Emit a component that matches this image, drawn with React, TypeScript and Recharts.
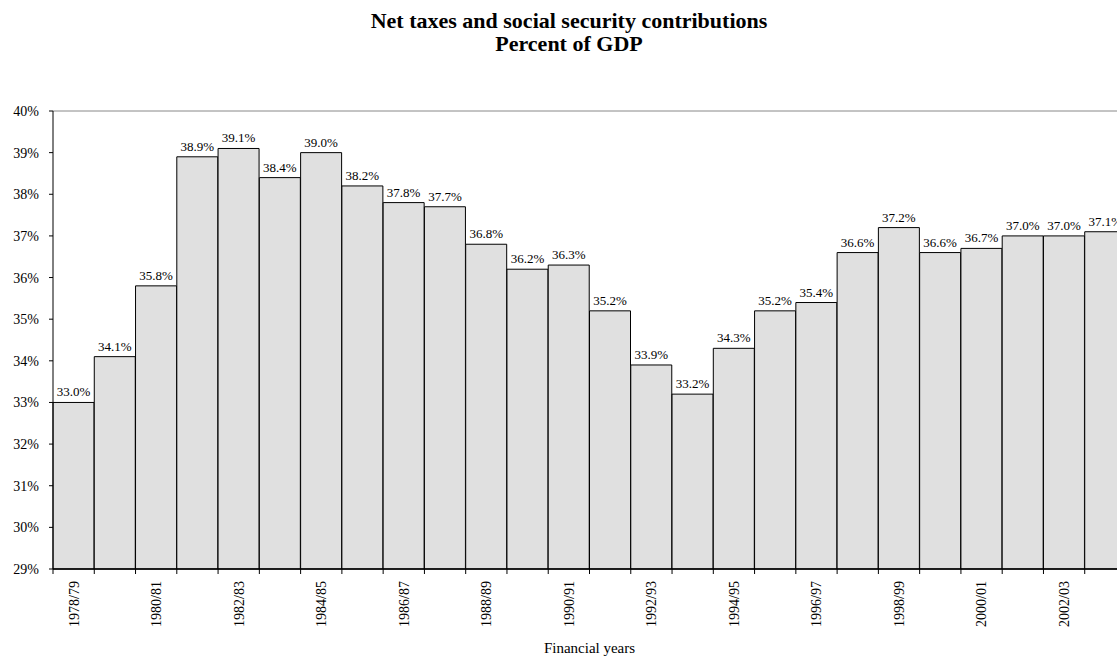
import React from 'react';
import { BarChart, Bar, XAxis, YAxis, LabelList, ReferenceLine } from 'recharts';

const years = [
  '1978/79', '1979/80', '1980/81', '1981/82', '1982/83', '1983/84', '1984/85', '1985/86', '1986/87',
  '1987/88', '1988/89', '1989/90', '1990/91', '1991/92', '1992/93', '1993/94', '1994/95', '1995/96',
  '1996/97', '1997/98', '1998/99', '1999/00', '2000/01', '2001/02', '2002/03', '2003/04',
];
const taxShare = [
  33.0, 34.1, 35.8, 38.9, 39.1, 38.4, 39.0, 38.2, 37.8, 37.7, 36.8, 36.2, 36.3,
  35.2, 33.9, 33.2, 34.3, 35.2, 35.4, 36.6, 37.2, 36.6, 36.7, 37.0, 37.0, 37.1,
];
const yTicks = [29, 30, 31, 32, 33, 34, 35, 36, 37, 38, 39, 40];

const data = years.map((year, i) => ({ year, value: taxShare[i] }));

const CHART_W = 1126;
const CHART_H = 658;
const Y_AXIS_W = 53;
const PLOT_W = CHART_W - Y_AXIS_W;
const FONT = '"Liberation Serif", "Times New Roman", serif';

// ticks sit on bar boundaries, labels on every other bar
const XTick = (props: any) => {
  const { x, y, payload, index } = props;
  const bw = PLOT_W / years.length;
  const axisY = y - 8;
  return (
    <g>
      <line x1={x - bw / 2} x2={x - bw / 2} y1={axisY} y2={axisY + 5} stroke="#000" />
      {index === years.length - 1 && (
        <line x1={x + bw / 2} x2={x + bw / 2} y1={axisY} y2={axisY + 5} stroke="#000" />
      )}
      {index % 2 === 0 && (
        <text
          x={x}
          y={axisY + 12}
          transform={`rotate(-90, ${x}, ${axisY + 12})`}
          textAnchor="end"
          dy="0.35em"
          fontSize={14}
          fontFamily={FONT}
          fill="#000"
        >
          {payload.value}
        </text>
      )}
    </g>
  );
};

export default function App() {
  return (
    <div
      style={{
        position: 'absolute',
        left: 0,
        top: 0,
        width: 1117,
        height: 658,
        overflow: 'hidden',
        background: '#fff',
        fontFamily: FONT,
      }}
    >
      <div
        style={{
          position: 'absolute',
          left: 0,
          width: 1138,
          top: 9,
          textAlign: 'center',
          fontWeight: 'bold',
          fontSize: 22,
          lineHeight: '23px',
        }}
      >
        Net taxes and social security contributions
        <br />
        Percent of GDP
      </div>
      <BarChart
        width={CHART_W}
        height={CHART_H}
        data={data}
        margin={{ top: 111, right: 0, bottom: 0, left: 0 }}
        barCategoryGap={0}
        barGap={0}
      >
        <ReferenceLine y={40} stroke="#888" />
        <XAxis
          dataKey="year"
          interval={0}
          tickLine={false}
          tickSize={4}
          tickMargin={4}
          height={89}
          axisLine={{ stroke: '#000', strokeWidth: 1.5 }}
          tick={<XTick />}
        />
        <YAxis
          domain={[29, 40]}
          ticks={yTicks}
          width={Y_AXIS_W}
          tickSize={4}
          tickMargin={10}
          tickFormatter={(v: number) => `${v}%`}
          axisLine={{ stroke: '#000' }}
          tickLine={{ stroke: '#000' }}
          tick={{ fill: '#000', fontSize: 14, fontFamily: FONT }}
        />
        <Bar dataKey="value" fill="#e0e0e0" stroke="#000" strokeWidth={1} isAnimationActive={false}>
          <LabelList
            dataKey="value"
            position="top"
            offset={6}
            formatter={(v: any) => `${Number(v).toFixed(1)}%`}
            fill="#000"
            fontSize={13}
            fontFamily={FONT}
          />
        </Bar>
      </BarChart>
      <div
        style={{
          position: 'absolute',
          left: Y_AXIS_W,
          width: PLOT_W,
          top: 640,
          textAlign: 'center',
          fontSize: 15,
          lineHeight: '16px',
        }}
      >
        Financial years
      </div>
    </div>
  );
}
